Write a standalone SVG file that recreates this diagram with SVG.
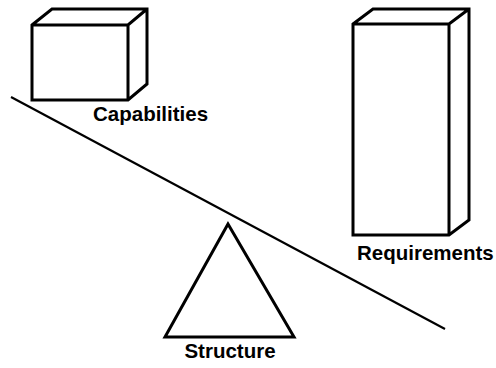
<svg xmlns="http://www.w3.org/2000/svg" width="496" height="368" viewBox="0 0 496 368">
<style>
.box{fill:#fff;stroke:#000;stroke-width:3;stroke-linejoin:miter}
.lbl{font-family:"Liberation Sans",Arial,sans-serif;font-weight:bold;font-size:20.5px;fill:#000}
.beam{stroke:#000;stroke-width:2.2;fill:none}
</style>
<rect width="496" height="368" fill="#fff"/>
<g id="connectors">
<line class="beam" x1="11" y1="97" x2="445" y2="329"/>
</g>
<g id="capabilities">
<path class="box" d="M32,25 L52,9 L147,9 L147,84 L128,100 L32,100 Z M32,25 L128,25 L147,9 M128,25 L128,100"/>
<text class="lbl" x="93" y="121">Capabilities</text>
</g>
<g id="requirements">
<path class="box" d="M353,24 L373,9 L469,9 L469,220 L449,235 L353,235 Z M353,24 L449,24 L469,9 M449,24 L449,235"/>
<text class="lbl" x="357" y="260">Requirements</text>
</g>
<g id="structure">
<polygon class="box" stroke-width="2.5" points="228,224 165,337 294,337"/>
<text class="lbl" x="230" y="358" text-anchor="middle">Structure</text>
</g>
</svg>
